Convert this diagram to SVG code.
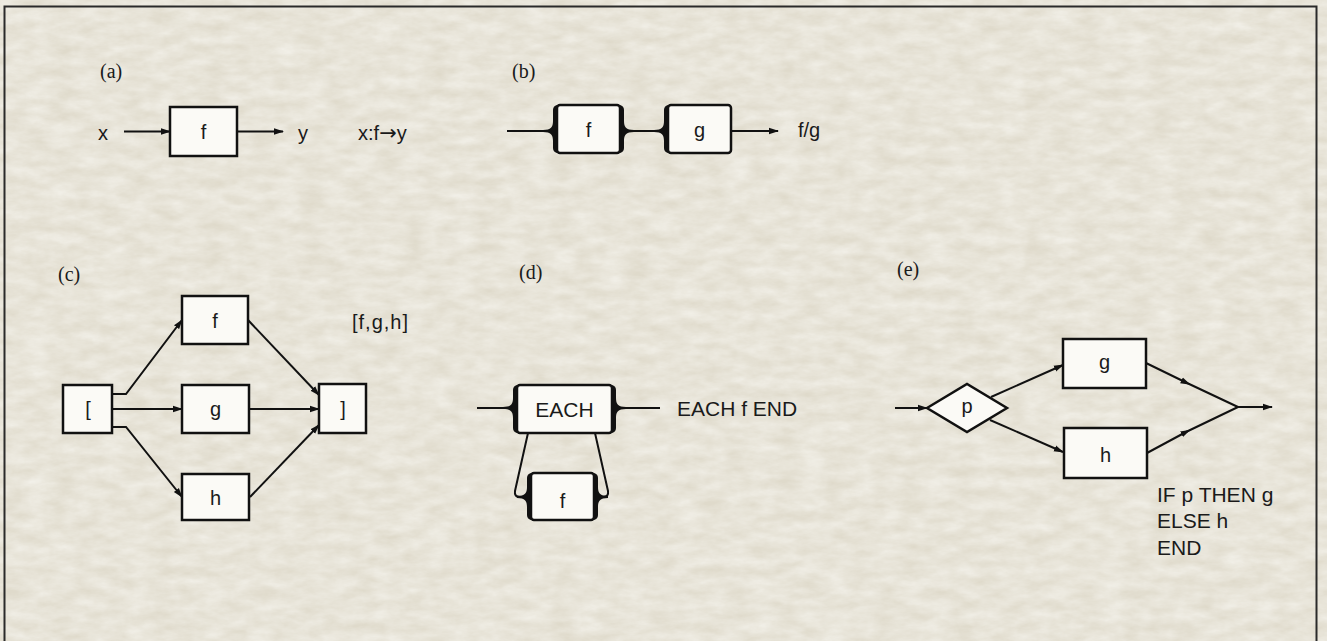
<svg xmlns="http://www.w3.org/2000/svg" width="1327" height="641" viewBox="0 0 1327 641">
<defs>
<filter id="paper" x="0" y="0" width="100%" height="100%">
<feTurbulence type="fractalNoise" baseFrequency="0.04 0.09" numOctaves="5" seed="11"/>
<feColorMatrix type="matrix" values="0 0 0 0 1  0 0 0 0 1  0 0 0 0 0.98  0.7 0 0 0 -0.08"/>
</filter>
<marker id="arr" markerUnits="userSpaceOnUse" markerWidth="10" markerHeight="8" refX="9" refY="4" orient="auto">
<path d="M0,0.8 L10,4 L0,7.2 z" fill="#111"/>
</marker>
<marker id="arrmid" markerUnits="userSpaceOnUse" markerWidth="10" markerHeight="8" refX="5" refY="4" orient="auto">
<path d="M0,0.8 L10,4 L0,7.2 z" fill="#111"/>
</marker>
</defs>
<style>
.box{fill:#fbfaf6;stroke:#111;stroke-width:2.5}
.ln{fill:none;stroke:#111;stroke-width:2}
.fl{fill:#111;stroke:none}
.t{font-family:"Liberation Sans",Arial,sans-serif;font-size:20px;fill:#1a1a1a}
.tm{text-anchor:middle}
.lb{font-family:"Liberation Serif","Times New Roman",serif;font-size:20px;fill:#1a1a1a}
</style>
<rect x="0" y="0" width="1327" height="641" fill="#dfdacb"/>
<rect x="0" y="0" width="1327" height="641" filter="url(#paper)"/>
<rect x="4.5" y="6.5" width="1312" height="650" fill="none" stroke="#2a2a2a" stroke-width="2"/>

<g id="labels">
<text class="lb" x="100" y="78">(a)</text>
<text class="lb" x="512" y="78">(b)</text>
<text class="lb" x="58" y="281">(c)</text>
<text class="lb" x="519" y="279">(d)</text>
<text class="lb" x="897" y="276">(e)</text>
</g>

<g id="connectors">
<!-- (a) -->
<path class="ln" d="M124,131.5 H170" marker-end="url(#arr)"/>
<path class="ln" d="M237,131.5 H283" marker-end="url(#arr)"/>
<!-- (b) -->
<path class="ln" d="M507,131 H557"/>
<path class="ln" d="M620,131 H668"/>
<path class="ln" d="M731,131 H778" marker-end="url(#arr)"/>
<path class="fl" d="M543,130 C551,130 553,127 553,121 L553,110 Q553,106 557,105 L557,153 Q553,152 553,148 L553,141 C553,135 551,132 543,132 Z"/>
<path class="fl" d="M634,130 C626,130 624,127 624,121 L624,110 Q624,106 620,105 L620,153 Q624,152 624,148 L624,141 C624,135 626,132 634,132 Z"/>
<path class="fl" d="M654,130 C662,130 664,127 664,121 L664,110 Q664,106 668,105 L668,153 Q664,152 664,148 L664,141 C664,135 662,132 654,132 Z"/>
<!-- (c) -->
<path class="ln" d="M112,394 H126 L182,320" marker-end="url(#arr)"/>
<path class="ln" d="M112,409 H182" marker-end="url(#arr)"/>
<path class="ln" d="M112,427 H126 L182,497" marker-end="url(#arr)"/>
<path class="ln" d="M248,320 L319,395" marker-end="url(#arr)"/>
<path class="ln" d="M249,409 H319" marker-end="url(#arr)"/>
<path class="ln" d="M250,497 L319,425" marker-end="url(#arr)"/>
<!-- (d) -->
<path class="ln" d="M477,408 H517"/>
<path class="ln" d="M612,408 H660"/>
<path class="fl" d="M503,407 C511,407 513,404 513,398 L513,390 Q513,386 517,385 L517,433 Q513,432 513,428 L513,418 C513,412 511,409 503,409 Z"/>
<path class="fl" d="M626,407 C618,407 616,404 616,398 L616,390 Q616,386 612,385 L612,433 Q616,432 616,428 L616,418 C616,412 618,409 626,409 Z"/>
<path class="ln" d="M528,433 L515,491 Q514,497 520,497 L531,497"/>
<path class="ln" d="M595,433 L608,491 Q609,497 603,497 L594,497"/>
<path class="fl" d="M517,496 C525,496 527,493 527,487 L527,478 Q527,474 531,473 L531,520 Q527,519 527,515 L527,507 C527,501 525,498 517,498 Z"/>
<path class="fl" d="M608,496 C600,496 598,493 598,487 L598,478 Q598,474 594,473 L594,520 Q598,519 598,515 L598,507 C598,501 600,498 608,498 Z"/>
<!-- (e) -->
<path class="ln" d="M895,408 H927" marker-end="url(#arr)"/>
<path class="ln" d="M991,397 L1063,365" marker-end="url(#arr)"/>
<path class="ln" d="M990,420 L1063,452" marker-end="url(#arr)"/>
<path class="ln" d="M1146,363 L1186,382.5 L1238,407" marker-mid="url(#arrmid)"/>
<path class="ln" d="M1147,453 L1186,432 L1238,407" marker-mid="url(#arrmid)"/>
<path class="ln" d="M1238,407 H1272" marker-end="url(#arr)"/>
</g>

<g id="node-a-f"><rect class="box" x="170" y="107" width="67" height="49"/><text class="t tm" x="203.5" y="139">f</text></g>
<g id="text-a">
<text class="t" x="98" y="140">x</text>
<text class="t" x="298" y="140">y</text>
<text class="t" x="358" y="140">x:f<tspan style="font-family:'DejaVu Sans',sans-serif;font-size:21px">→</tspan>y</text>
</g>

<g id="node-b-f"><rect class="box" x="557" y="105" width="63" height="48" rx="3"/><text class="t tm" x="588.5" y="137">f</text></g>
<g id="node-b-g"><rect class="box" x="668" y="105" width="63" height="48" rx="3"/><text class="t tm" x="699.5" y="137">g</text></g>
<g id="text-b"><text class="t" x="798" y="137">f/g</text></g>

<g id="node-c-open"><rect class="box" x="63" y="385" width="49" height="48"/><text class="t tm" x="88" y="416">[</text></g>
<g id="node-c-f"><rect class="box" x="182" y="296" width="66" height="48"/><text class="t tm" x="215" y="328">f</text></g>
<g id="node-c-g"><rect class="box" x="182" y="385" width="67" height="48"/><text class="t tm" x="215.5" y="416">g</text></g>
<g id="node-c-h"><rect class="box" x="182" y="474" width="67" height="46"/><text class="t tm" x="215.5" y="505">h</text></g>
<g id="node-c-close"><rect class="box" x="319" y="384" width="47" height="49"/><text class="t tm" x="343" y="416">]</text></g>
<g id="text-c"><text class="t" x="352" y="329" textLength="56" lengthAdjust="spacing">[f,g,h]</text></g>

<g id="node-d-each"><rect class="box" x="517" y="385" width="95" height="48" rx="3"/><text class="t tm" x="564.5" y="417" style="font-size:21px">EACH</text></g>
<g id="node-d-f"><rect class="box" x="531" y="473" width="63" height="47" rx="3"/><text class="t tm" x="562.5" y="508">f</text></g>
<g id="text-d"><text class="t" x="677" y="416" style="font-size:21px">EACH f END</text></g>

<g id="node-e-p"><polygon class="box" points="927,408 967,384 1007,408 967,432"/><text class="t tm" x="967" y="413">p</text></g>
<g id="node-e-g"><rect class="box" x="1063" y="339" width="83" height="49"/><text class="t tm" x="1104.5" y="369">g</text></g>
<g id="node-e-h"><rect class="box" x="1064" y="428" width="83" height="50"/><text class="t tm" x="1105.5" y="462">h</text></g>
<g id="text-e">
<text class="t" x="1157" y="502" style="font-size:21px">IF p THEN g</text>
<text class="t" x="1157" y="528" style="font-size:21px">ELSE h</text>
<text class="t" x="1157" y="555" style="font-size:21px">END</text>
</g>
</svg>
